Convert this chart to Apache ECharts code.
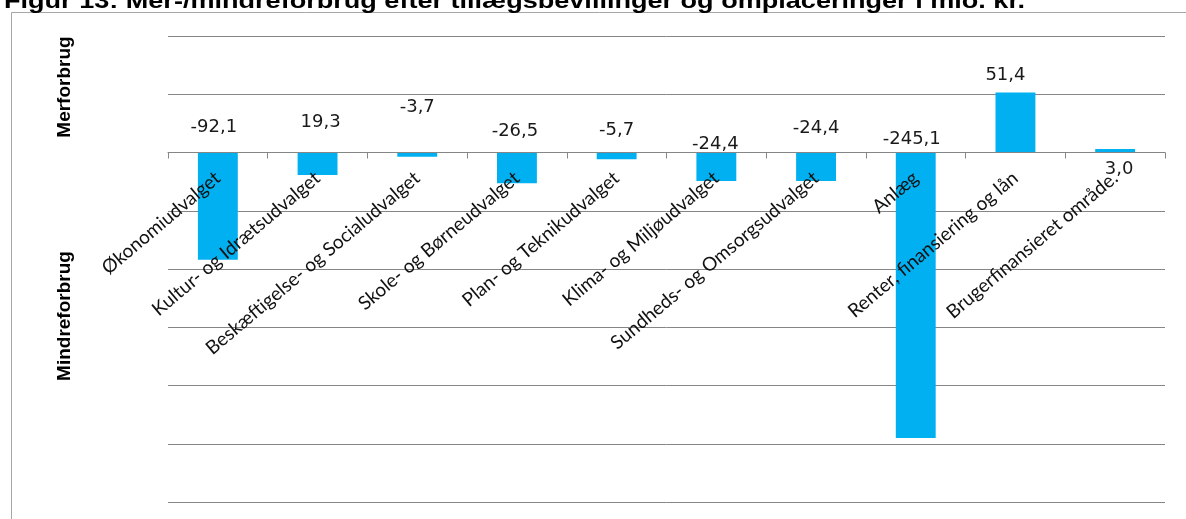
<!DOCTYPE html>
<html>
<head>
<meta charset="utf-8">
<script src="https://cdn.jsdelivr.net/npm/echarts@6/dist/echarts.min.js"></script>
<style>
html,body{margin:0;padding:0;background:#fff;}
#chart{width:1186px;height:519px;}
</style>
</head>
<body>
<div id="chart"></div>
<script>
// ---- data ----
const categories = [
  'Økonomiudvalget',
  'Kultur- og Idrætsudvalget',
  'Beskæftigelse- og Socialudvalget',
  'Skole- og Børneudvalget',
  'Plan- og Teknikudvalget',
  'Klima- og Miljøudvalget',
  'Sundheds- og Omsorgsudvalget',
  'Anlæg',
  'Renter, finansiering og lån',
  'Brugerfinansieret område.'
];
const values = [-92.1, -19.3, -3.7, -26.5, -5.7, -24.4, -24.4, -245.1, 51.4, 3.0];
const labelTexts = ['-92,1', '19,3', '-3,7', '-26,5', '-5,7', '-24,4', '-24,4', '-245,1', '51,4', '3,0'];
const titleText = 'Figur 13: Mer-/mindreforbrug efter tillægsbevillinger og omplaceringer i mio. kr.';
const axisTitleTop = 'Merforbrug';
const axisTitleBottom = 'Mindreforbrug';

// label placement tweaks (pixels), matching the reference's hand-placed labels
const labelOffsets = [[-4,-11],[3,-16],[0,-31],[-2,-7],[0,-8],[-1,6],[0,-10],[-4,1],[-10,-3],[4,34]];

const chart = echarts.init(document.getElementById('chart'), null, {renderer:'canvas'});

const seriesData = values.map((v, i) => ({
  value: v,
  label: { offset: labelOffsets[i] }
}));

const gridTop = 36, gridBottom = 17, chartH = 519;
const yMin = -300, yMax = 100;
// distance from the grid's bottom edge up to the zero line
const plotH = chartH - gridTop - gridBottom;
const zeroLift = plotH * (0 - yMin) / (yMax - yMin);

chart.setOption({
  backgroundColor: '#ffffff',
  animation: false,
  grid: { left: 168, right: 21, top: gridTop, bottom: gridBottom, containLabel: false, outerBoundsMode: 'none' },
  xAxis: {
    type: 'category',
    data: categories,
    position: 'bottom',
    offset: -zeroLift,
    z: 5,
    axisLine: { onZero: false, lineStyle: { color: '#868686', width: 1 } },
    axisTick: { show: true, length: 6, alignWithLabel: false, lineStyle: { color: '#868686' } },
    axisLabel: {
      interval: 0,
      rotate: 40,
      margin: 23,
      padding: [26, 0, 0, 0],
      hideOverlap: false,
      fontFamily: 'Lato',
      fontSize: 19,
      color: '#111'
    },
    splitLine: { show: false }
  },
  yAxis: {
    type: 'value',
    min: yMin,
    max: yMax,
    interval: 50,
    axisLabel: { show: false },
    axisLine: { show: false },
    axisTick: { show: false },
    splitLine: { lineStyle: { color: '#868686', width: 1 } }
  },
  series: [{
    type: 'bar',
    data: seriesData,
    barWidth: '40%',
    itemStyle: { color: '#00B0F0' },
    label: {
      show: true,
      position: 'top',
      distance: 5,
      fontFamily: 'DejaVu Sans',
      fontSize: 18,
      color: '#1a1a1a',
      formatter: p => labelTexts[p.dataIndex]
    }
  }],
  graphic: [
    {
      type: 'rect',
      shape: { x: 11.5, y: 12.5, width: 1300, height: 700 },
      style: { fill: null, stroke: '#a6a6a6', lineWidth: 1 },
      silent: true
    },
    {
      type: 'text',
      x: 4, y: 2,
      scaleX: 1.23,
      style: {
        text: titleText,
        font: 'bold 22px "Liberation Sans", Arial, sans-serif',
        fill: '#000',
        verticalAlign: 'middle'
      }
    },
    {
      type: 'text',
      x: 65, y: 87,
      rotation: Math.PI / 2,
      style: {
        text: axisTitleTop,
        font: 'bold 19px "Liberation Sans", Arial, sans-serif',
        fill: '#000',
        align: 'center',
        verticalAlign: 'middle'
      }
    },
    {
      type: 'text',
      x: 65, y: 316,
      rotation: Math.PI / 2,
      style: {
        text: axisTitleBottom,
        font: 'bold 19px "Liberation Sans", Arial, sans-serif',
        fill: '#000',
        align: 'center',
        verticalAlign: 'middle'
      }
    }
  ]
});
</script>
</body>
</html>
